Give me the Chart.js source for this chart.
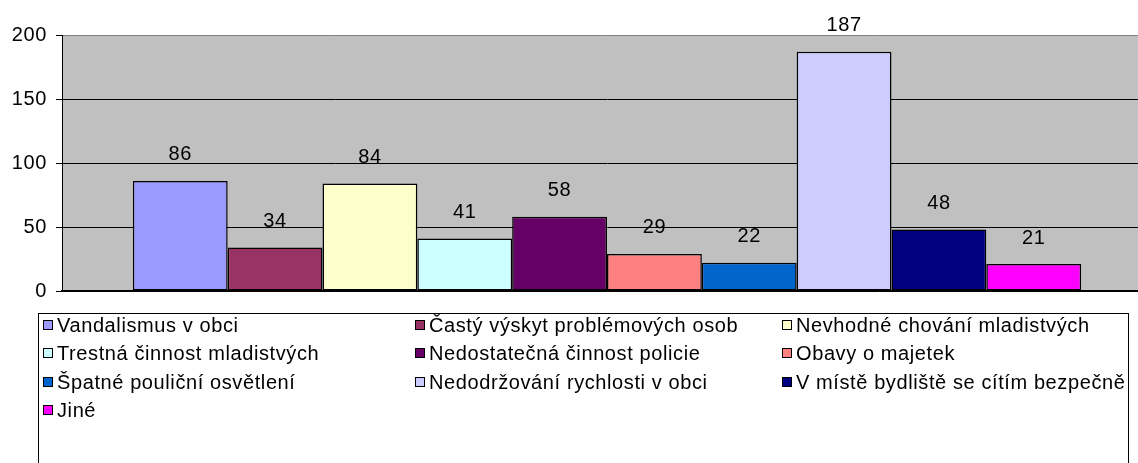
<!DOCTYPE html>
<html>
<head>
<meta charset="utf-8">
<script src="https://cdn.jsdelivr.net/npm/chart.js@4"></script>
<style>
  html, body { margin: 0; padding: 0; background: #fff; overflow: hidden; }
  #wrap { position: relative; width: 1152px; height: 463px; }
</style>
</head>
<body>
<div id="wrap"><canvas id="dataChart"></canvas></div>
<script>
// one category, ten answers
const categories = [''];
const seriesNames = [
    'Vandalismus v obci',
    'Častý výskyt problémových osob',
    'Nevhodné chování mladistvých',
    'Trestná činnost mladistvých',
    'Nedostatečná činnost policie',
    'Obavy o majetek',
    'Špatné pouliční osvětlení',
    'Nedodržování rychlosti v obci',
    'V místě bydliště se cítím bezpečně',
    'Jiné'
];
const seriesValues = [86, 34, 84, 41, 58, 29, 22, 187, 48, 21];
const yTicks = [0, 50, 100, 150, 200];

const barColors = ['#9999FF', '#993366', '#FFFFCC', '#CCFFFF', '#660066',
                   '#FF8080', '#0066CC', '#CCCCFF', '#000080', '#FF00FF'];

const FAMILY = '"Liberation Sans", Arial, sans-serif';
const FONT = '20px ' + FAMILY;
const SPACING = '0.6px';

// gray plot area
const plotBg = {
    id: 'plotBg',
    beforeDraw(chart) {
        const a = chart.chartArea;
        const ctx = chart.ctx;
        ctx.letterSpacing = SPACING;
        ctx.save();
        ctx.fillStyle = '#C0C0C0';
        ctx.fillRect(a.left, a.top, a.right - a.left, a.bottom - a.top);
        ctx.restore();
    }
};

// value above each bar
const valueLabels = {
    id: 'valueLabels',
    afterDatasetsDraw(chart) {
        const ctx = chart.ctx;
        ctx.save();
        ctx.font = FONT;
        ctx.letterSpacing = SPACING;
        ctx.fillStyle = '#000';
        ctx.textAlign = 'center';
        ctx.textBaseline = 'middle';
        chart.data.datasets.forEach((ds, i) => {
            chart.getDatasetMeta(i).data.forEach((bar, j) => {
                ctx.fillText(ds.data[j], bar.x, bar.y - 26);
            });
        });
        ctx.restore();
    }
};

// boxed legend in three columns
const boxLegend = {
    id: 'boxLegend',
    afterDraw(chart) {
        const ctx = chart.ctx;
        const colX = [43, 415, 782];
        const rowY = [325, 353, 382, 410];
        ctx.save();
        ctx.strokeStyle = '#000';
        ctx.lineWidth = 1;
        ctx.strokeRect(38.5, 313.5, 1090, 200);
        ctx.font = FONT;
        ctx.letterSpacing = SPACING;
        ctx.textBaseline = 'middle';
        ctx.textAlign = 'left';
        chart.data.datasets.forEach((ds, i) => {
            const x = colX[i % 3];
            const y = rowY[Math.floor(i / 3)];
            ctx.fillStyle = ds.backgroundColor;
            ctx.fillRect(x + 0.5, y - 4.5, 9, 9);
            ctx.strokeStyle = '#000';
            ctx.strokeRect(x + 0.5, y - 4.5, 9, 9);
            ctx.fillStyle = '#000';
            ctx.fillText(ds.label, x + 14, y + 1);
        });
        ctx.restore();
    }
};

const dataChart = new Chart(
    document.getElementById('dataChart'),
    {
        type: 'bar',
        data: {
            labels: categories,
            datasets: seriesNames.map((name, i) => ({
                label: name,
                data: [seriesValues[i]],
                backgroundColor: barColors[i],
                borderColor: '#000',
                borderWidth: 1.5,
                borderSkipped: false,
                barPercentage: 1,
                categoryPercentage: 0.87
            }))
        },
        options: {
            responsive: true,
            maintainAspectRatio: false,
            animation: false,
            events: [],
            layout: { padding: { top: 35, bottom: 172, left: 0, right: 0 } },
            plugins: { legend: { display: false }, tooltip: { enabled: false } },
            scales: {
                x: {
                    grid: { display: false, drawTicks: false },
                    ticks: { display: false },
                    border: { display: true, color: '#000', width: 1.5 },
                    afterFit: (s) => { s.height = 0; }
                },
                y: {
                    min: 0,
                    max: 200,
                    afterBuildTicks: (s) => { s.ticks = yTicks.map(v => ({ value: v })); },
                    afterFit: (s) => { s.width = 62; },
                    grid: {
                        color: (c) => c.tick && c.tick.value === 200 ? '#808080' : '#000',
                        lineWidth: 1,
                        tickLength: 6,
                        tickColor: '#000'
                    },
                    border: { display: true, color: '#000', width: 1 },
                    ticks: {
                        color: '#000',
                        font: { family: FAMILY, size: 20 },
                        padding: 9
                    }
                }
            }
        },
        plugins: [plotBg, valueLabels, boxLegend]
    }
);
</script>
</body>
</html>
